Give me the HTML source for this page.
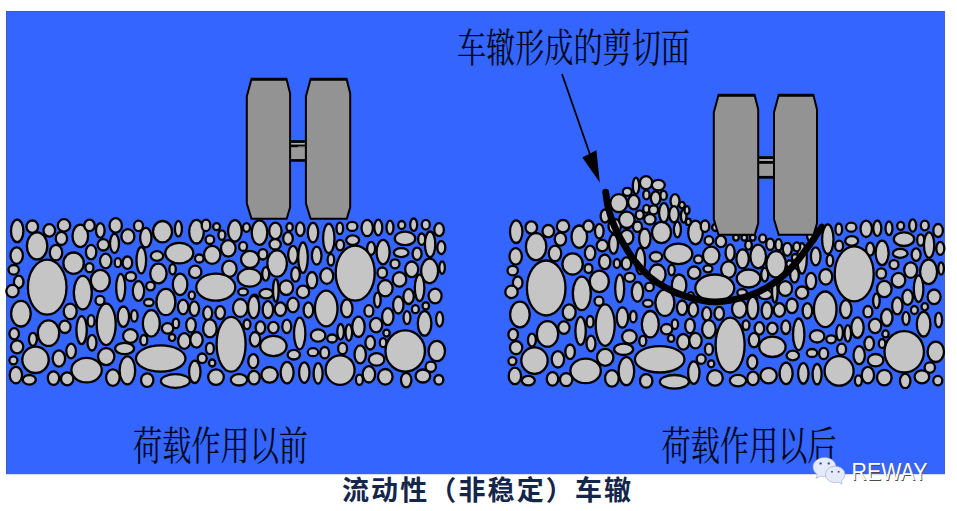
<!DOCTYPE html>
<html><head><meta charset="utf-8"><title>rutting</title>
<style>
html,body{margin:0;padding:0;background:#fff;}
body{width:957px;height:511px;overflow:hidden;font-family:"Liberation Sans",sans-serif;}
svg{display:block}
.agg ellipse{fill:#c5c5c5;stroke:#000;stroke-width:2.3}
.wheel polygon,.wheel rect{fill:#939393;stroke:#000;stroke-width:2;stroke-linejoin:miter}
</style></head><body>
<svg width="957" height="511" viewBox="0 0 957 511">
<title>流动性（非稳定）车辙</title>
<desc>车辙形成的剪切面 — 荷载作用以前 / 荷载作用以后 — REWAY</desc>
<rect x="0" y="0" width="957" height="511" fill="#fff"/>
<rect x="6.5" y="11.5" width="937.9" height="462.2" fill="#3466ff" stroke="#3a5bc4" stroke-width="1"/>
<g class="agg">
<ellipse cx="17.2" cy="230.9" rx="6.2" ry="11.3"/>
<ellipse cx="32.3" cy="226.7" rx="5.8" ry="6.2"/>
<ellipse cx="49.3" cy="230.4" rx="5.8" ry="6.2"/>
<ellipse cx="64" cy="225.4" rx="6.2" ry="6.2"/>
<ellipse cx="37.1" cy="245.9" rx="10.2" ry="13.5"/>
<ellipse cx="61.4" cy="238.4" rx="5.7" ry="6.5"/>
<ellipse cx="56" cy="252.6" rx="6.2" ry="7.8"/>
<ellipse cx="16.7" cy="255.6" rx="6.2" ry="8.2"/>
<ellipse cx="13.7" cy="269.8" rx="5.2" ry="4.8"/>
<ellipse cx="18.7" cy="281.9" rx="4.8" ry="6.2"/>
<ellipse cx="12.5" cy="291.1" rx="6.2" ry="6.2"/>
<ellipse cx="47.2" cy="287.2" rx="19.3" ry="27.5"/>
<ellipse cx="73.6" cy="263.2" rx="10.2" ry="10.7"/>
<ellipse cx="80.3" cy="235.9" rx="7.8" ry="11.2"/>
<ellipse cx="89.5" cy="225.4" rx="5.2" ry="5.7"/>
<ellipse cx="100.3" cy="230.4" rx="4.3" ry="7.3"/>
<ellipse cx="115.7" cy="225.4" rx="6.2" ry="7.3"/>
<ellipse cx="91.1" cy="252.1" rx="5.2" ry="7.3"/>
<ellipse cx="103.3" cy="244.8" rx="5.7" ry="5.7"/>
<ellipse cx="114.5" cy="243.4" rx="4.5" ry="9.5"/>
<ellipse cx="127.9" cy="236.4" rx="6.5" ry="7.3"/>
<ellipse cx="138.5" cy="225.9" rx="4.5" ry="5.2"/>
<ellipse cx="145.8" cy="237.6" rx="5.7" ry="9.8"/>
<ellipse cx="105.7" cy="261" rx="5.7" ry="7.3"/>
<ellipse cx="89.5" cy="267.7" rx="4" ry="4.5"/>
<ellipse cx="117.9" cy="262.7" rx="3.2" ry="4.5"/>
<ellipse cx="127.4" cy="262.7" rx="4.8" ry="6.2"/>
<ellipse cx="141.3" cy="260.2" rx="4.8" ry="13.2"/>
<ellipse cx="100.3" cy="280.6" rx="9.5" ry="10.7"/>
<ellipse cx="82.8" cy="292.6" rx="9" ry="16.8"/>
<ellipse cx="120.7" cy="287.6" rx="4.5" ry="13.7"/>
<ellipse cx="130.8" cy="276.5" rx="5.2" ry="4.5"/>
<ellipse cx="138.5" cy="291" rx="5.7" ry="9.8"/>
<ellipse cx="100" cy="300.4" rx="4.5" ry="4.5"/>
<ellipse cx="162.5" cy="231.7" rx="9.5" ry="10.7"/>
<ellipse cx="178.4" cy="228.7" rx="3.5" ry="7.8"/>
<ellipse cx="196.5" cy="231.7" rx="7.3" ry="11.8"/>
<ellipse cx="206" cy="225.4" rx="4.3" ry="5.7"/>
<ellipse cx="216.6" cy="226.7" rx="3.5" ry="3.5"/>
<ellipse cx="221.9" cy="235.1" rx="3.5" ry="4.8"/>
<ellipse cx="209.9" cy="239.7" rx="4.3" ry="4.3"/>
<ellipse cx="234.9" cy="230.9" rx="6.8" ry="10.7"/>
<ellipse cx="246.5" cy="227.5" rx="3.5" ry="4.3"/>
<ellipse cx="259.5" cy="232.6" rx="7.8" ry="12.3"/>
<ellipse cx="275.4" cy="230.9" rx="6.2" ry="8.2"/>
<ellipse cx="289.6" cy="227" rx="3.2" ry="4"/>
<ellipse cx="300.2" cy="229.2" rx="4.3" ry="6.8"/>
<ellipse cx="288" cy="238.4" rx="4.8" ry="6.2"/>
<ellipse cx="275.1" cy="244.3" rx="5.7" ry="5.2"/>
<ellipse cx="179.3" cy="253.1" rx="14" ry="10.2"/>
<ellipse cx="157" cy="256" rx="6.2" ry="4.8"/>
<ellipse cx="199.3" cy="258.5" rx="4.3" ry="4"/>
<ellipse cx="212.2" cy="254.8" rx="8.2" ry="9"/>
<ellipse cx="228.3" cy="248.4" rx="7.3" ry="8.2"/>
<ellipse cx="243.1" cy="246.4" rx="4" ry="4.5"/>
<ellipse cx="250" cy="259.3" rx="9" ry="8.5"/>
<ellipse cx="262.9" cy="254.3" rx="4.5" ry="5.2"/>
<ellipse cx="277.1" cy="263.5" rx="9.8" ry="13.2"/>
<ellipse cx="293" cy="254.8" rx="4.8" ry="9"/>
<ellipse cx="303" cy="257.6" rx="4.8" ry="15.3"/>
<ellipse cx="158.4" cy="273.5" rx="8.2" ry="9.8"/>
<ellipse cx="172.6" cy="269.3" rx="3.2" ry="5.2"/>
<ellipse cx="195.2" cy="271.9" rx="6.2" ry="6.2"/>
<ellipse cx="229.4" cy="268.8" rx="7.3" ry="8.2"/>
<ellipse cx="249.5" cy="277.7" rx="11.8" ry="9"/>
<ellipse cx="265.7" cy="273.9" rx="3.5" ry="6.8"/>
<ellipse cx="295.5" cy="274.4" rx="4.3" ry="7.3"/>
<ellipse cx="180.1" cy="284.4" rx="7.3" ry="10.7"/>
<ellipse cx="215.8" cy="287.2" rx="19.5" ry="13.5"/>
<ellipse cx="150.5" cy="286.1" rx="4.3" ry="4.3"/>
<ellipse cx="165.9" cy="302" rx="9.5" ry="13.2"/>
<ellipse cx="191.8" cy="295.3" rx="3.2" ry="4"/>
<ellipse cx="243.1" cy="291.9" rx="4.8" ry="3.5"/>
<ellipse cx="266.2" cy="293.6" rx="6.8" ry="4.8"/>
<ellipse cx="275.8" cy="290.5" rx="2.8" ry="11.3"/>
<ellipse cx="286.3" cy="287.7" rx="6.8" ry="7.3"/>
<ellipse cx="303" cy="291.9" rx="6.2" ry="6.2"/>
<ellipse cx="254.5" cy="298.3" rx="3.8" ry="3.7"/>
<ellipse cx="313" cy="232.6" rx="5.2" ry="9.8"/>
<ellipse cx="328.8" cy="238.4" rx="5.7" ry="14.8"/>
<ellipse cx="339.8" cy="228.4" rx="3.3" ry="5.7"/>
<ellipse cx="352.2" cy="226.4" rx="5.2" ry="4.5"/>
<ellipse cx="352.7" cy="240.1" rx="6.5" ry="4.8"/>
<ellipse cx="340.1" cy="245.1" rx="4" ry="5.2"/>
<ellipse cx="367.2" cy="228" rx="5.7" ry="8.2"/>
<ellipse cx="378.3" cy="227.5" rx="4" ry="7.8"/>
<ellipse cx="390" cy="227.5" rx="3.5" ry="6.8"/>
<ellipse cx="401.7" cy="225" rx="3.5" ry="4"/>
<ellipse cx="413.7" cy="224.7" rx="3.5" ry="6.2"/>
<ellipse cx="425.8" cy="224.7" rx="4" ry="4.8"/>
<ellipse cx="439.1" cy="229.7" rx="4.8" ry="6.5"/>
<ellipse cx="405" cy="238.4" rx="10.2" ry="6.8"/>
<ellipse cx="421.7" cy="239.2" rx="3.5" ry="5.7"/>
<ellipse cx="430.1" cy="244.3" rx="5.2" ry="12.8"/>
<ellipse cx="441.3" cy="247.6" rx="4" ry="6.5"/>
<ellipse cx="371.1" cy="248.4" rx="4" ry="6.5"/>
<ellipse cx="383.1" cy="252.1" rx="6.5" ry="12.3"/>
<ellipse cx="401.2" cy="252.6" rx="7.3" ry="4.5"/>
<ellipse cx="417.1" cy="253.8" rx="4.5" ry="6.2"/>
<ellipse cx="316.7" cy="255.6" rx="4.8" ry="9"/>
<ellipse cx="330.9" cy="259.8" rx="3.3" ry="5.7"/>
<ellipse cx="355.2" cy="273.1" rx="19.5" ry="27.5"/>
<ellipse cx="395" cy="263.8" rx="4.5" ry="4.5"/>
<ellipse cx="382.3" cy="272.7" rx="4.8" ry="5.2"/>
<ellipse cx="411.7" cy="269.3" rx="6.5" ry="7.8"/>
<ellipse cx="429.6" cy="271" rx="8.5" ry="12.3"/>
<ellipse cx="442.1" cy="267.7" rx="2.8" ry="6.2"/>
<ellipse cx="326.8" cy="276" rx="6.5" ry="7.8"/>
<ellipse cx="312" cy="280.2" rx="5.2" ry="8.2"/>
<ellipse cx="399.5" cy="279.4" rx="6.8" ry="7.3"/>
<ellipse cx="385.3" cy="288.2" rx="7.3" ry="8.2"/>
<ellipse cx="419.6" cy="287.9" rx="4.8" ry="13.3"/>
<ellipse cx="326.2" cy="308.5" rx="11.3" ry="17.8"/>
<ellipse cx="377.4" cy="300" rx="3.3" ry="7.3"/>
<ellipse cx="408.6" cy="296.4" rx="5.2" ry="7.6"/>
<ellipse cx="435.1" cy="296" rx="6.5" ry="7.3"/>
<ellipse cx="20.9" cy="313.7" rx="9.8" ry="12.8"/>
<ellipse cx="70.2" cy="311.4" rx="6.5" ry="7.8"/>
<ellipse cx="148.8" cy="302.5" rx="4.8" ry="3.5"/>
<ellipse cx="106.2" cy="324.3" rx="9.5" ry="20.8"/>
<ellipse cx="123.4" cy="316.7" rx="5.7" ry="10.2"/>
<ellipse cx="134.3" cy="315.9" rx="3.3" ry="5.7"/>
<ellipse cx="151.3" cy="323.4" rx="8.5" ry="13.2"/>
<ellipse cx="91.1" cy="320.9" rx="3.5" ry="5.7"/>
<ellipse cx="81.6" cy="330.1" rx="5.2" ry="14"/>
<ellipse cx="64.9" cy="326.8" rx="5.7" ry="6.2"/>
<ellipse cx="48.5" cy="333.1" rx="10.7" ry="12.8"/>
<ellipse cx="14.2" cy="333.8" rx="4.8" ry="5.7"/>
<ellipse cx="32.9" cy="339.3" rx="4" ry="6.5"/>
<ellipse cx="17.1" cy="346.8" rx="6.2" ry="6.5"/>
<ellipse cx="92" cy="342.7" rx="4.5" ry="7.8"/>
<ellipse cx="130.4" cy="336" rx="7.3" ry="6.8"/>
<ellipse cx="143.8" cy="340.2" rx="3.5" ry="5.2"/>
<ellipse cx="124.6" cy="348.5" rx="9.5" ry="5.7"/>
<ellipse cx="71.1" cy="351" rx="4.8" ry="7.3"/>
<ellipse cx="58.9" cy="358.5" rx="6.2" ry="8.2"/>
<ellipse cx="35.5" cy="359.8" rx="13.2" ry="13.2"/>
<ellipse cx="13.4" cy="360.3" rx="4" ry="4"/>
<ellipse cx="106.2" cy="356.6" rx="8.2" ry="8.5"/>
<ellipse cx="160.7" cy="358.5" rx="24.8" ry="13.2"/>
<ellipse cx="86.6" cy="370.1" rx="15.2" ry="12.3"/>
<ellipse cx="127.4" cy="370.4" rx="7.8" ry="14"/>
<ellipse cx="15.9" cy="375.1" rx="6.2" ry="8.2"/>
<ellipse cx="29.3" cy="379.8" rx="6.5" ry="4.8"/>
<ellipse cx="53.5" cy="378.1" rx="5.7" ry="6.8"/>
<ellipse cx="67.2" cy="378.8" rx="6.2" ry="6.5"/>
<ellipse cx="112.9" cy="377.6" rx="6.8" ry="8.2"/>
<ellipse cx="147.2" cy="380.1" rx="6.2" ry="6.8"/>
<ellipse cx="183.1" cy="307" rx="5.2" ry="7.3"/>
<ellipse cx="194.3" cy="308.7" rx="4.8" ry="7.3"/>
<ellipse cx="207.7" cy="313.1" rx="4.5" ry="6.8"/>
<ellipse cx="220.2" cy="312.6" rx="4.8" ry="6.5"/>
<ellipse cx="240.3" cy="308" rx="7.3" ry="9"/>
<ellipse cx="253.7" cy="307" rx="5.6" ry="11.2"/>
<ellipse cx="267.9" cy="309.7" rx="5.2" ry="8.5"/>
<ellipse cx="280.4" cy="309.2" rx="5.7" ry="6.8"/>
<ellipse cx="293" cy="305" rx="5.7" ry="7.3"/>
<ellipse cx="308.4" cy="310" rx="4.8" ry="7.7"/>
<ellipse cx="167.6" cy="328.4" rx="5.7" ry="5.2"/>
<ellipse cx="175.9" cy="323.4" rx="3.2" ry="4.8"/>
<ellipse cx="172.1" cy="337.6" rx="3.2" ry="3.5"/>
<ellipse cx="191" cy="325.1" rx="4.8" ry="7.3"/>
<ellipse cx="209.9" cy="328.4" rx="6.8" ry="9"/>
<ellipse cx="184.3" cy="341" rx="6.2" ry="7.8"/>
<ellipse cx="196.5" cy="339.8" rx="6.2" ry="7.8"/>
<ellipse cx="231.1" cy="344.3" rx="14.5" ry="27.4"/>
<ellipse cx="247" cy="324.3" rx="3.5" ry="4.8"/>
<ellipse cx="260.4" cy="327.6" rx="4.8" ry="6.2"/>
<ellipse cx="273.4" cy="327.6" rx="5.2" ry="5.7"/>
<ellipse cx="286.8" cy="326.4" rx="4.5" ry="6.8"/>
<ellipse cx="299.7" cy="333.5" rx="5.7" ry="15.8"/>
<ellipse cx="255" cy="339.3" rx="5.2" ry="7.3"/>
<ellipse cx="273.4" cy="346" rx="13.2" ry="10.2"/>
<ellipse cx="293.8" cy="354.7" rx="6.2" ry="4.8"/>
<ellipse cx="209.9" cy="348.5" rx="4" ry="5.7"/>
<ellipse cx="202.2" cy="358.3" rx="4.5" ry="4.8"/>
<ellipse cx="212.2" cy="363" rx="3.2" ry="3.5"/>
<ellipse cx="253.3" cy="361.2" rx="5" ry="7"/>
<ellipse cx="194.8" cy="371.8" rx="5.7" ry="11.2"/>
<ellipse cx="216" cy="377.1" rx="7.8" ry="7.8"/>
<ellipse cx="287.1" cy="372.6" rx="6.5" ry="10.7"/>
<ellipse cx="304.3" cy="372.6" rx="5.2" ry="10.2"/>
<ellipse cx="269.6" cy="374.8" rx="8.2" ry="7.8"/>
<ellipse cx="254" cy="377.6" rx="5.7" ry="6.8"/>
<ellipse cx="239" cy="379.8" rx="8.2" ry="5.7"/>
<ellipse cx="175.4" cy="381" rx="14.5" ry="6.8"/>
<ellipse cx="346.8" cy="308.4" rx="5.7" ry="9"/>
<ellipse cx="368.9" cy="310.9" rx="4.5" ry="5.7"/>
<ellipse cx="398.3" cy="305" rx="5.2" ry="8.5"/>
<ellipse cx="415.4" cy="309.2" rx="3.5" ry="4"/>
<ellipse cx="425.8" cy="305.9" rx="3.3" ry="3.6"/>
<ellipse cx="387.8" cy="316.7" rx="5.7" ry="8.5"/>
<ellipse cx="407" cy="317.6" rx="3.5" ry="6.5"/>
<ellipse cx="424.6" cy="323.4" rx="6.8" ry="12.3"/>
<ellipse cx="439.6" cy="319.2" rx="3.5" ry="7.3"/>
<ellipse cx="358.5" cy="326.8" rx="6.2" ry="10.2"/>
<ellipse cx="376.1" cy="325.1" rx="6.2" ry="7.3"/>
<ellipse cx="340.6" cy="331.8" rx="3.3" ry="7.8"/>
<ellipse cx="348.8" cy="332.6" rx="3.3" ry="8.2"/>
<ellipse cx="318.1" cy="335.5" rx="7.3" ry="6.2"/>
<ellipse cx="332.1" cy="338.5" rx="4.8" ry="4"/>
<ellipse cx="386.5" cy="333.1" rx="3.2" ry="3.5"/>
<ellipse cx="370.2" cy="342.7" rx="4.8" ry="6.8"/>
<ellipse cx="383.1" cy="342.7" rx="3.3" ry="4.5"/>
<ellipse cx="405.2" cy="351" rx="19.7" ry="20.7"/>
<ellipse cx="436.8" cy="351" rx="8.2" ry="10.2"/>
<ellipse cx="313" cy="352.2" rx="5.2" ry="4"/>
<ellipse cx="324.7" cy="352.7" rx="4.5" ry="5.7"/>
<ellipse cx="342.6" cy="348.5" rx="4.5" ry="5.7"/>
<ellipse cx="360.2" cy="354.4" rx="5.7" ry="9"/>
<ellipse cx="376.6" cy="359.4" rx="7.8" ry="6.2"/>
<ellipse cx="340.1" cy="370.1" rx="14.5" ry="14.8"/>
<ellipse cx="318.1" cy="373.4" rx="4.5" ry="10.2"/>
<ellipse cx="368.9" cy="374.3" rx="6.2" ry="8.2"/>
<ellipse cx="385.3" cy="376.8" rx="7.3" ry="7.8"/>
<ellipse cx="430.8" cy="366.8" rx="5.2" ry="5.2"/>
<ellipse cx="422.9" cy="376" rx="7.3" ry="6.5"/>
<ellipse cx="406.2" cy="380.1" rx="5.2" ry="7.3"/>
<ellipse cx="438.8" cy="379.8" rx="4.5" ry="4.8"/>
<ellipse cx="359.4" cy="379.8" rx="3.5" ry="5.2"/>
</g>
<g class="agg">
<ellipse cx="516.2" cy="231.7" rx="6.2" ry="11.3"/>
<ellipse cx="531.3" cy="227.5" rx="5.8" ry="6.2"/>
<ellipse cx="548.3" cy="231.2" rx="5.8" ry="6.2"/>
<ellipse cx="563" cy="226.2" rx="6.2" ry="6.2"/>
<ellipse cx="536.1" cy="246.7" rx="10.2" ry="13.5"/>
<ellipse cx="560.4" cy="239.2" rx="5.7" ry="6.5"/>
<ellipse cx="555" cy="253.4" rx="6.2" ry="7.8"/>
<ellipse cx="515.7" cy="256.4" rx="6.2" ry="8.2"/>
<ellipse cx="512.7" cy="270.6" rx="5.2" ry="4.8"/>
<ellipse cx="517.7" cy="282.7" rx="4.8" ry="6.2"/>
<ellipse cx="511.5" cy="291.9" rx="6.2" ry="6.2"/>
<ellipse cx="546.2" cy="288" rx="19.3" ry="27.5"/>
<ellipse cx="572.6" cy="264" rx="10.2" ry="10.7"/>
<ellipse cx="579.3" cy="236.7" rx="7.8" ry="11.2"/>
<ellipse cx="588.5" cy="226.2" rx="5.2" ry="5.7"/>
<ellipse cx="599.3" cy="231.2" rx="4.3" ry="7.3"/>
<ellipse cx="614.7" cy="226.2" rx="6.2" ry="7.3"/>
<ellipse cx="590.1" cy="252.9" rx="5.2" ry="7.3"/>
<ellipse cx="602.3" cy="245.6" rx="5.7" ry="5.7"/>
<ellipse cx="613.5" cy="244.2" rx="4.5" ry="9.5"/>
<ellipse cx="626.9" cy="237.2" rx="6.5" ry="7.3"/>
<ellipse cx="637.5" cy="226.7" rx="4.5" ry="5.2"/>
<ellipse cx="644.8" cy="238.4" rx="5.7" ry="9.8"/>
<ellipse cx="604.7" cy="261.8" rx="5.7" ry="7.3"/>
<ellipse cx="588.5" cy="268.5" rx="4" ry="4.5"/>
<ellipse cx="616.9" cy="263.5" rx="3.2" ry="4.5"/>
<ellipse cx="626.4" cy="263.5" rx="4.8" ry="6.2"/>
<ellipse cx="640.3" cy="261" rx="4.8" ry="13.2"/>
<ellipse cx="599.3" cy="281.4" rx="9.5" ry="10.7"/>
<ellipse cx="581.8" cy="293.4" rx="9" ry="16.8"/>
<ellipse cx="619.7" cy="288.4" rx="4.5" ry="13.7"/>
<ellipse cx="629.8" cy="277.3" rx="5.2" ry="4.5"/>
<ellipse cx="637.5" cy="291.8" rx="5.7" ry="9.8"/>
<ellipse cx="599" cy="301.2" rx="4.5" ry="4.5"/>
<ellipse cx="661.5" cy="232.5" rx="9.5" ry="10.7"/>
<ellipse cx="677.4" cy="229.5" rx="3.5" ry="7.8"/>
<ellipse cx="695.5" cy="232.5" rx="7.3" ry="11.8"/>
<ellipse cx="705" cy="226.2" rx="4.3" ry="5.7"/>
<ellipse cx="715.6" cy="227.5" rx="3.5" ry="3.5"/>
<ellipse cx="708.9" cy="240.5" rx="4.3" ry="4.3"/>
<ellipse cx="678.3" cy="253.9" rx="14" ry="10.2"/>
<ellipse cx="656" cy="256.8" rx="6.2" ry="4.8"/>
<ellipse cx="698.3" cy="259.3" rx="4.3" ry="4"/>
<ellipse cx="711.2" cy="255.6" rx="8.2" ry="9"/>
<ellipse cx="776.1" cy="264.3" rx="9.8" ry="13.2"/>
<ellipse cx="802" cy="258.4" rx="4.8" ry="15.3"/>
<ellipse cx="657.4" cy="274.3" rx="8.2" ry="9.8"/>
<ellipse cx="671.6" cy="270.1" rx="3.2" ry="5.2"/>
<ellipse cx="694.2" cy="272.7" rx="6.2" ry="6.2"/>
<ellipse cx="728.4" cy="269.6" rx="7.3" ry="8.2"/>
<ellipse cx="748.5" cy="278.5" rx="11.8" ry="9"/>
<ellipse cx="764.7" cy="274.7" rx="3.5" ry="6.8"/>
<ellipse cx="794.5" cy="275.2" rx="4.3" ry="7.3"/>
<ellipse cx="679.1" cy="285.2" rx="7.3" ry="10.7"/>
<ellipse cx="714.8" cy="288" rx="19.5" ry="13.5"/>
<ellipse cx="649.5" cy="286.9" rx="4.3" ry="4.3"/>
<ellipse cx="664.9" cy="302.8" rx="9.5" ry="13.2"/>
<ellipse cx="690.8" cy="296.1" rx="3.2" ry="4"/>
<ellipse cx="742.1" cy="292.7" rx="4.8" ry="3.5"/>
<ellipse cx="765.2" cy="294.4" rx="6.8" ry="4.8"/>
<ellipse cx="774.8" cy="291.3" rx="2.8" ry="11.3"/>
<ellipse cx="785.3" cy="288.5" rx="6.8" ry="7.3"/>
<ellipse cx="802" cy="292.7" rx="6.2" ry="6.2"/>
<ellipse cx="753.5" cy="299.1" rx="3.8" ry="3.7"/>
<ellipse cx="812" cy="233.4" rx="5.2" ry="9.8"/>
<ellipse cx="827.8" cy="239.2" rx="5.7" ry="14.8"/>
<ellipse cx="838.8" cy="229.2" rx="3.3" ry="5.7"/>
<ellipse cx="851.2" cy="227.2" rx="5.2" ry="4.5"/>
<ellipse cx="851.7" cy="240.9" rx="6.5" ry="4.8"/>
<ellipse cx="839.1" cy="245.9" rx="4" ry="5.2"/>
<ellipse cx="866.2" cy="228.8" rx="5.7" ry="8.2"/>
<ellipse cx="877.3" cy="228.3" rx="4" ry="7.8"/>
<ellipse cx="889" cy="228.3" rx="3.5" ry="6.8"/>
<ellipse cx="900.7" cy="225.8" rx="3.5" ry="4"/>
<ellipse cx="912.7" cy="225.5" rx="3.5" ry="6.2"/>
<ellipse cx="924.8" cy="225.5" rx="4" ry="4.8"/>
<ellipse cx="938.1" cy="230.5" rx="4.8" ry="6.5"/>
<ellipse cx="904" cy="239.2" rx="10.2" ry="6.8"/>
<ellipse cx="920.7" cy="240" rx="3.5" ry="5.7"/>
<ellipse cx="929.1" cy="245.1" rx="5.2" ry="12.8"/>
<ellipse cx="940.3" cy="248.4" rx="4" ry="6.5"/>
<ellipse cx="870.1" cy="249.2" rx="4" ry="6.5"/>
<ellipse cx="882.1" cy="252.9" rx="6.5" ry="12.3"/>
<ellipse cx="900.2" cy="253.4" rx="7.3" ry="4.5"/>
<ellipse cx="916.1" cy="254.6" rx="4.5" ry="6.2"/>
<ellipse cx="815.7" cy="256.4" rx="4.8" ry="9"/>
<ellipse cx="829.9" cy="260.6" rx="3.3" ry="5.7"/>
<ellipse cx="854.2" cy="273.9" rx="19.5" ry="27.5"/>
<ellipse cx="894" cy="264.6" rx="4.5" ry="4.5"/>
<ellipse cx="881.3" cy="273.5" rx="4.8" ry="5.2"/>
<ellipse cx="910.7" cy="270.1" rx="6.5" ry="7.8"/>
<ellipse cx="928.6" cy="271.8" rx="8.5" ry="12.3"/>
<ellipse cx="941.1" cy="268.5" rx="2.8" ry="6.2"/>
<ellipse cx="825.8" cy="276.8" rx="6.5" ry="7.8"/>
<ellipse cx="811" cy="281" rx="5.2" ry="8.2"/>
<ellipse cx="898.5" cy="280.2" rx="6.8" ry="7.3"/>
<ellipse cx="884.3" cy="289" rx="7.3" ry="8.2"/>
<ellipse cx="918.6" cy="288.7" rx="4.8" ry="13.3"/>
<ellipse cx="825.2" cy="309.3" rx="11.3" ry="17.8"/>
<ellipse cx="876.4" cy="300.8" rx="3.3" ry="7.3"/>
<ellipse cx="907.6" cy="297.2" rx="5.2" ry="7.6"/>
<ellipse cx="934.1" cy="296.8" rx="6.5" ry="7.3"/>
<ellipse cx="519.9" cy="314.5" rx="9.8" ry="12.8"/>
<ellipse cx="569.2" cy="312.2" rx="6.5" ry="7.8"/>
<ellipse cx="647.8" cy="303.3" rx="4.8" ry="3.5"/>
<ellipse cx="605.2" cy="325.1" rx="9.5" ry="20.8"/>
<ellipse cx="622.4" cy="317.5" rx="5.7" ry="10.2"/>
<ellipse cx="633.3" cy="316.7" rx="3.3" ry="5.7"/>
<ellipse cx="650.3" cy="324.2" rx="8.5" ry="13.2"/>
<ellipse cx="590.1" cy="321.7" rx="3.5" ry="5.7"/>
<ellipse cx="580.6" cy="330.9" rx="5.2" ry="14"/>
<ellipse cx="563.9" cy="327.6" rx="5.7" ry="6.2"/>
<ellipse cx="547.5" cy="333.9" rx="10.7" ry="12.8"/>
<ellipse cx="513.2" cy="334.6" rx="4.8" ry="5.7"/>
<ellipse cx="531.9" cy="340.1" rx="4" ry="6.5"/>
<ellipse cx="516.1" cy="347.6" rx="6.2" ry="6.5"/>
<ellipse cx="591" cy="343.5" rx="4.5" ry="7.8"/>
<ellipse cx="629.4" cy="336.8" rx="7.3" ry="6.8"/>
<ellipse cx="642.8" cy="341" rx="3.5" ry="5.2"/>
<ellipse cx="623.6" cy="349.3" rx="9.5" ry="5.7"/>
<ellipse cx="570.1" cy="351.8" rx="4.8" ry="7.3"/>
<ellipse cx="557.9" cy="359.3" rx="6.2" ry="8.2"/>
<ellipse cx="534.5" cy="360.6" rx="13.2" ry="13.2"/>
<ellipse cx="512.4" cy="361.1" rx="4" ry="4"/>
<ellipse cx="605.2" cy="357.4" rx="8.2" ry="8.5"/>
<ellipse cx="659.7" cy="359.3" rx="24.8" ry="13.2"/>
<ellipse cx="585.6" cy="370.9" rx="15.2" ry="12.3"/>
<ellipse cx="626.4" cy="371.2" rx="7.8" ry="14"/>
<ellipse cx="514.9" cy="375.9" rx="6.2" ry="8.2"/>
<ellipse cx="528.3" cy="380.6" rx="6.5" ry="4.8"/>
<ellipse cx="552.5" cy="378.9" rx="5.7" ry="6.8"/>
<ellipse cx="566.2" cy="379.6" rx="6.2" ry="6.5"/>
<ellipse cx="611.9" cy="378.4" rx="6.8" ry="8.2"/>
<ellipse cx="646.2" cy="380.9" rx="6.2" ry="6.8"/>
<ellipse cx="682.1" cy="307.8" rx="5.2" ry="7.3"/>
<ellipse cx="693.3" cy="309.5" rx="4.8" ry="7.3"/>
<ellipse cx="706.7" cy="313.9" rx="4.5" ry="6.8"/>
<ellipse cx="719.2" cy="313.4" rx="4.8" ry="6.5"/>
<ellipse cx="739.3" cy="308.8" rx="7.3" ry="9"/>
<ellipse cx="752.7" cy="307.8" rx="5.6" ry="11.2"/>
<ellipse cx="766.9" cy="310.5" rx="5.2" ry="8.5"/>
<ellipse cx="779.4" cy="310" rx="5.7" ry="6.8"/>
<ellipse cx="792" cy="305.8" rx="5.7" ry="7.3"/>
<ellipse cx="807.4" cy="310.8" rx="4.8" ry="7.7"/>
<ellipse cx="666.6" cy="329.2" rx="5.7" ry="5.2"/>
<ellipse cx="674.9" cy="324.2" rx="3.2" ry="4.8"/>
<ellipse cx="671.1" cy="338.4" rx="3.2" ry="3.5"/>
<ellipse cx="690" cy="325.9" rx="4.8" ry="7.3"/>
<ellipse cx="708.9" cy="329.2" rx="6.8" ry="9"/>
<ellipse cx="683.3" cy="341.8" rx="6.2" ry="7.8"/>
<ellipse cx="695.5" cy="340.6" rx="6.2" ry="7.8"/>
<ellipse cx="730.1" cy="345.1" rx="14.5" ry="27.4"/>
<ellipse cx="746" cy="325.1" rx="3.5" ry="4.8"/>
<ellipse cx="759.4" cy="328.4" rx="4.8" ry="6.2"/>
<ellipse cx="772.4" cy="328.4" rx="5.2" ry="5.7"/>
<ellipse cx="785.8" cy="327.2" rx="4.5" ry="6.8"/>
<ellipse cx="798.7" cy="334.3" rx="5.7" ry="15.8"/>
<ellipse cx="754" cy="340.1" rx="5.2" ry="7.3"/>
<ellipse cx="772.4" cy="346.8" rx="13.2" ry="10.2"/>
<ellipse cx="792.8" cy="355.5" rx="6.2" ry="4.8"/>
<ellipse cx="708.9" cy="349.3" rx="4" ry="5.7"/>
<ellipse cx="701.2" cy="359.1" rx="4.5" ry="4.8"/>
<ellipse cx="711.2" cy="363.8" rx="3.2" ry="3.5"/>
<ellipse cx="752.3" cy="362" rx="5" ry="7"/>
<ellipse cx="693.8" cy="372.6" rx="5.7" ry="11.2"/>
<ellipse cx="715" cy="377.9" rx="7.8" ry="7.8"/>
<ellipse cx="786.1" cy="373.4" rx="6.5" ry="10.7"/>
<ellipse cx="803.3" cy="373.4" rx="5.2" ry="10.2"/>
<ellipse cx="768.6" cy="375.6" rx="8.2" ry="7.8"/>
<ellipse cx="753" cy="378.4" rx="5.7" ry="6.8"/>
<ellipse cx="738" cy="380.6" rx="8.2" ry="5.7"/>
<ellipse cx="674.4" cy="381.8" rx="14.5" ry="6.8"/>
<ellipse cx="845.8" cy="309.2" rx="5.7" ry="9"/>
<ellipse cx="867.9" cy="311.7" rx="4.5" ry="5.7"/>
<ellipse cx="897.3" cy="305.8" rx="5.2" ry="8.5"/>
<ellipse cx="914.4" cy="310" rx="3.5" ry="4"/>
<ellipse cx="924.8" cy="306.7" rx="3.3" ry="3.6"/>
<ellipse cx="886.8" cy="317.5" rx="5.7" ry="8.5"/>
<ellipse cx="906" cy="318.4" rx="3.5" ry="6.5"/>
<ellipse cx="923.6" cy="324.2" rx="6.8" ry="12.3"/>
<ellipse cx="938.6" cy="320" rx="3.5" ry="7.3"/>
<ellipse cx="857.5" cy="327.6" rx="6.2" ry="10.2"/>
<ellipse cx="875.1" cy="325.9" rx="6.2" ry="7.3"/>
<ellipse cx="839.6" cy="332.6" rx="3.3" ry="7.8"/>
<ellipse cx="847.8" cy="333.4" rx="3.3" ry="8.2"/>
<ellipse cx="817.1" cy="336.3" rx="7.3" ry="6.2"/>
<ellipse cx="831.1" cy="339.3" rx="4.8" ry="4"/>
<ellipse cx="885.5" cy="333.9" rx="3.2" ry="3.5"/>
<ellipse cx="869.2" cy="343.5" rx="4.8" ry="6.8"/>
<ellipse cx="882.1" cy="343.5" rx="3.3" ry="4.5"/>
<ellipse cx="904.2" cy="351.8" rx="19.7" ry="20.7"/>
<ellipse cx="935.8" cy="351.8" rx="8.2" ry="10.2"/>
<ellipse cx="812" cy="353" rx="5.2" ry="4"/>
<ellipse cx="823.7" cy="353.5" rx="4.5" ry="5.7"/>
<ellipse cx="841.6" cy="349.3" rx="4.5" ry="5.7"/>
<ellipse cx="859.2" cy="355.2" rx="5.7" ry="9"/>
<ellipse cx="875.6" cy="360.2" rx="7.8" ry="6.2"/>
<ellipse cx="839.1" cy="370.9" rx="14.5" ry="14.8"/>
<ellipse cx="817.1" cy="374.2" rx="4.5" ry="10.2"/>
<ellipse cx="867.9" cy="375.1" rx="6.2" ry="8.2"/>
<ellipse cx="884.3" cy="377.6" rx="7.3" ry="7.8"/>
<ellipse cx="929.8" cy="367.6" rx="5.2" ry="5.2"/>
<ellipse cx="921.9" cy="376.8" rx="7.3" ry="6.5"/>
<ellipse cx="905.2" cy="380.9" rx="5.2" ry="7.3"/>
<ellipse cx="937.8" cy="380.6" rx="4.5" ry="4.8"/>
<ellipse cx="858.4" cy="380.6" rx="3.5" ry="5.2"/>
<ellipse cx="618.8" cy="203.1" rx="8.5" ry="9"/>
<ellipse cx="633.8" cy="202.1" rx="5.7" ry="7.3"/>
<ellipse cx="627.3" cy="191.8" rx="4.5" ry="4"/>
<ellipse cx="636" cy="185.9" rx="3.2" ry="8.2"/>
<ellipse cx="646.1" cy="182.6" rx="6.2" ry="6.5"/>
<ellipse cx="658.3" cy="185.1" rx="6.5" ry="5.2"/>
<ellipse cx="646.4" cy="194.8" rx="3.2" ry="4.5"/>
<ellipse cx="655.6" cy="198.1" rx="4.8" ry="6.8"/>
<ellipse cx="663.6" cy="195.4" rx="3.2" ry="4.5"/>
<ellipse cx="675" cy="201" rx="4.5" ry="6.8"/>
<ellipse cx="646.4" cy="208.8" rx="3.2" ry="4"/>
<ellipse cx="653.6" cy="209.8" rx="4.5" ry="4.5"/>
<ellipse cx="663.9" cy="212.7" rx="4.8" ry="9.5"/>
<ellipse cx="674" cy="214.3" rx="4.8" ry="8.2"/>
<ellipse cx="682" cy="205.1" rx="2.8" ry="3.2"/>
<ellipse cx="683.7" cy="216" rx="2.8" ry="6.5"/>
<ellipse cx="687" cy="210.2" rx="2.5" ry="4"/>
<ellipse cx="688.4" cy="221.9" rx="2.5" ry="3.2"/>
<ellipse cx="605.1" cy="216" rx="4.5" ry="6.5"/>
<ellipse cx="626.8" cy="219.8" rx="7.8" ry="8.2"/>
<ellipse cx="639.7" cy="214.8" rx="4" ry="4.5"/>
<ellipse cx="649.9" cy="219.3" rx="5.7" ry="5.2"/>
<ellipse cx="720.9" cy="241.4" rx="5.2" ry="5.7"/>
<ellipse cx="736" cy="237.6" rx="2.8" ry="3"/>
<ellipse cx="744.3" cy="237.6" rx="2.8" ry="3"/>
<ellipse cx="752.7" cy="237.6" rx="2.8" ry="3"/>
<ellipse cx="748.5" cy="245.1" rx="3.3" ry="4.5"/>
<ellipse cx="762.7" cy="238.4" rx="3.5" ry="4"/>
<ellipse cx="770.2" cy="244.3" rx="4" ry="5.7"/>
<ellipse cx="778.6" cy="244.8" rx="3.3" ry="5.7"/>
<ellipse cx="787.3" cy="249.3" rx="4.5" ry="6.5"/>
<ellipse cx="796.7" cy="246.8" rx="3.5" ry="4.5"/>
<ellipse cx="730.1" cy="252.6" rx="4.5" ry="8.2"/>
<ellipse cx="742.6" cy="258.8" rx="6.2" ry="9.5"/>
<ellipse cx="758.2" cy="256.5" rx="7.8" ry="11.8"/>
<ellipse cx="795" cy="257.6" rx="3.2" ry="3.5"/>
<ellipse cx="789.5" cy="264" rx="3.2" ry="3.6"/>
<ellipse cx="708" cy="268.8" rx="4.5" ry="3.5"/>
</g>
<!-- wheels left -->
<g class="wheel">
<rect x="290" y="140.2" width="16" height="21.5" style="fill:#000;stroke:none"/>
<rect x="290" y="142.9" width="16" height="1.7" style="fill:#adadad;stroke:none"/>
<rect x="290" y="147.2" width="16" height="11.9" style="fill:#999;stroke:none"/>
<rect x="298" y="146.4" width="8" height="1" style="fill:#999;stroke:none"/>
<polygon points="251.5,78.9 286.5,78.9 290.1,93.4 290.1,207.3 286.7,218.8 251.5,218.8 246.8,203.3 246.8,96.4"/><line x1="251" y1="79.3" x2="286.9" y2="79.3" stroke="#000" stroke-width="3"/>
<polygon points="310.6,78.9 346.6,78.9 350.2,93.4 350.2,207.3 346.8,218.8 310.6,218.8 305.9,203.3 305.9,96.4"/><line x1="310.1" y1="79.3" x2="347" y2="79.3" stroke="#000" stroke-width="3"/>
</g>
<!-- wheels right -->
<g class="wheel">
<rect x="758" y="156.2" width="16" height="22.5" style="fill:#000;stroke:none"/>
<rect x="758" y="159.1" width="16" height="1.8" style="fill:#b5b5b5;stroke:none"/>
<rect x="758" y="163.8" width="16" height="12.1" style="fill:#999;stroke:none"/>
<polygon points="718.5,94.9 754.6,94.9 758.2,109.4 758.2,223.3 754.8,234.8 718.5,234.8 713.8,219.3 713.8,112.4"/><line x1="718" y1="95.3" x2="755" y2="95.3" stroke="#000" stroke-width="3"/>
<polygon points="778.7,94.9 813.4,94.9 817,109.4 817,223.3 813.6,234.8 778.7,234.8 774,219.3 774,112.4"/><line x1="778.2" y1="95.3" x2="813.8" y2="95.3" stroke="#000" stroke-width="3"/>
</g>
<!-- shear arc -->
<path d="M605.7 192.2 C606.1 194.8 606.9 202.4 608.3 208.0 C609.7 213.6 611.7 219.9 614.2 225.8 C616.7 231.7 619.8 237.7 623.3 243.6 C626.8 249.5 630.6 255.9 635.0 261.4 C639.4 266.9 644.2 272.2 649.4 276.7 C654.6 281.1 660.4 284.9 666.2 288.1 C672.0 291.3 677.6 293.7 684.0 295.8 C690.4 297.9 699.1 299.9 704.4 300.9 C709.7 301.9 711.8 301.9 716.0 301.8 C720.2 301.7 724.1 301.3 729.6 300.3 C735.1 299.3 742.6 297.9 749.1 295.6 C755.6 293.3 762.8 289.9 768.7 286.4 C774.6 282.9 779.5 279.1 784.4 274.7 C789.3 270.3 793.9 265.1 798.1 260.0 C802.3 254.9 806.4 249.1 809.8 244.4 C813.2 239.7 816.6 234.5 818.6 231.6 C820.6 228.7 821.4 227.8 821.9 227.1" fill="none" stroke="#000" stroke-width="6.8" stroke-linecap="round"/>
<g class="agg">

</g>
<!-- arrow -->
<line x1="562" y1="74" x2="594" y2="166" stroke="#000" stroke-width="1.8"/>
<polygon points="599.8,182.5 582.3,157.5 596.4,150.2" fill="#000"/>
<!-- labels -->
<text x="457" y="62" font-family="'Liberation Serif','Noto Serif CJK SC',serif" font-size="40" fill="#000820" textLength="233" lengthAdjust="spacingAndGlyphs">车辙形成的剪切面</text>
<clipPath id="c2"><rect x="120" y="415" width="186.8" height="60"/></clipPath>
<text x="133" y="460" font-family="'Liberation Serif','Noto Serif CJK SC',serif" font-size="40" fill="#000820" textLength="175" lengthAdjust="spacingAndGlyphs" clip-path="url(#c2)">荷载作用以前</text>
<text x="661.5" y="460" font-family="'Liberation Serif','Noto Serif CJK SC',serif" font-size="40" fill="#000820" textLength="175" lengthAdjust="spacingAndGlyphs">荷载作用以后</text>
<text x="342" y="500" font-family="'Liberation Sans','Noto Sans CJK SC',sans-serif" font-size="27" font-weight="bold" fill="#14264a" textLength="289" lengthAdjust="spacing">流动性（非稳定）车辙</text>
<!-- watermark -->
<g id="wm">
<g fill="#e6ebfb" stroke="#9aa3c4" stroke-width="0.6">
<path d="M824.5 457.5c-6.4 0-11.5 4.3-11.5 9.6 0 3 1.7 5.7 4.3 7.4l-1.3 3.9 4.6-2.3c1.2 0.3 2.5 0.5 3.9 0.5 6.4 0 11.5-4.3 11.5-9.600s-5.100-9.500-11.500-9.500z"/>
<path d="M835.3 466.2c-5.400 0-9.800 3.700-9.800 8.200s4.400 8.200 9.800 8.200c1.100 0 2.200-0.200 3.200-0.400l3.700 2-1-3.300c2.300-1.500 3.800-3.800 3.800-6.500 0-4.500-4.300-8.200-9.700-8.200z"/>
</g>
<g fill="#3a52b8"><circle cx="820.600" cy="463.4" r="1.2"/><circle cx="828.8" cy="463.4" r="1.2"/><circle cx="832" cy="471.8" r="1"/><circle cx="838.600" cy="471.8" r="1"/></g>
<text x="852.3" y="481.1" font-family="'Liberation Sans',sans-serif" font-size="24.500" fill="#4a4a4a" textLength="76" lengthAdjust="spacingAndGlyphs">REWAY</text>
<text x="851.500" y="480.3" font-family="'Liberation Sans',sans-serif" font-size="24.500" fill="#fff" textLength="76" lengthAdjust="spacingAndGlyphs">REWAY</text>
</g>
</svg>
</body></html>
